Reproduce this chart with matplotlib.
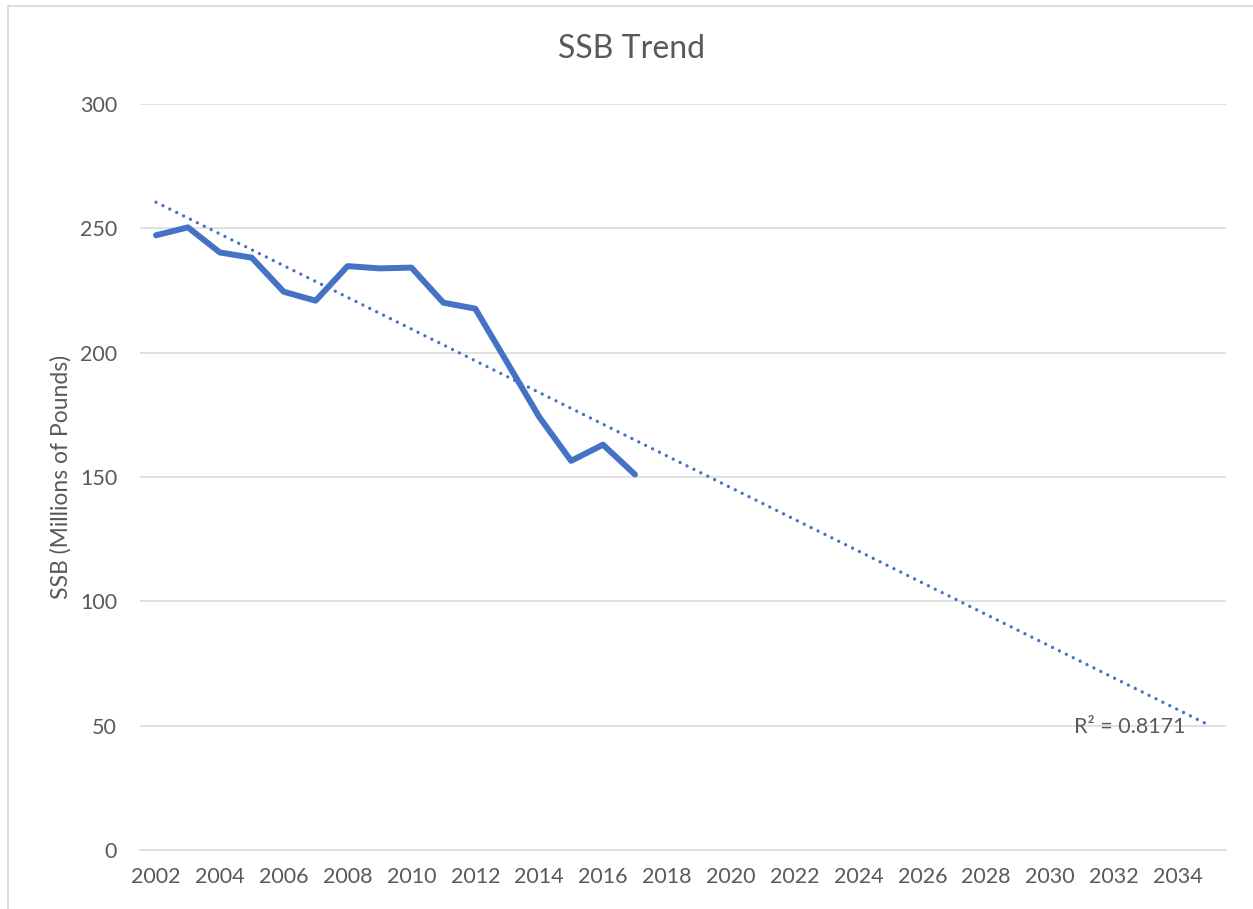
import numpy as np
import matplotlib
matplotlib.use("Agg")
import matplotlib.pyplot as plt
from matplotlib.lines import Line2D

plt.rcParams['font.family'] = ['Lato', 'DejaVu Sans']

# ---- data ----
years = [2002, 2003, 2004, 2005, 2006, 2007, 2008, 2009,
         2010, 2011, 2012, 2013, 2014, 2015, 2016, 2017]
ssb = [247.2, 250.4, 240.3, 238.2, 224.5, 220.9, 234.8, 233.9,
       234.2, 220.1, 217.7, 196.0, 174.2, 156.5, 163.0, 151.0]
forecast_end = 2035
x_tick_labels = list(range(2002, 2035, 2))
y_ticks = [0, 50, 100, 150, 200, 250, 300]
title = "SSB Trend"
y_label = "SSB (Millions of Pounds)"
r2_label = "R² = 0.8171"

# ---- style ----
W, H = 1253, 909
DPI = 100
blue = "#4472C4"
text_col = "#595959"
grid_col = "#D9D9D9"

fig = plt.figure(figsize=(W / DPI, H / DPI), dpi=DPI)
ax = fig.add_axes([140 / W, 1 - 850 / H, (1225.7 - 140) / W, (850 - 104) / H])

# trend line (linear fit, forecast forward)
coef = np.polyfit(years, ssb, 1)
trend_x = np.arange(years[0], forecast_end + 1)
trend_y = np.polyval(coef, trend_x)
ax.plot(trend_x, trend_y, color=blue, linewidth=2.4,
        linestyle=(0, (0.01, 2.3)), dash_capstyle='round', zorder=3)

# data line
ax.plot(years, ssb, color=blue, linewidth=4.3, solid_joinstyle='round',
        solid_capstyle='round', zorder=4)

ax.set_xlim(years[0] - 0.5, forecast_end + 0.5)
ax.set_ylim(0, 300)
ax.set_yticks(y_ticks)
ax.set_xticks(x_tick_labels)
ax.set_xticklabels([str(v) for v in x_tick_labels])

ax.grid(axis='y', color=grid_col, linewidth=1.1)
ax.set_axisbelow(True)
for s in ['top', 'right', 'left']:
    ax.spines[s].set_visible(False)
ax.spines['bottom'].set_color(grid_col)
ax.spines['bottom'].set_linewidth(1.1)
ax.tick_params(axis='both', length=0, labelsize=15.5, labelcolor=text_col)
ax.tick_params(axis='y', pad=16.5)
ax.tick_params(axis='x', pad=12)

ax.set_ylabel(y_label, fontsize=16.5, color=text_col, labelpad=6)
fig.text(631 / W, 1 - 49 / H, title, fontsize=23, color=text_col,
         ha='center', va='center')

ax.text(2032.5, 49.5, r2_label, fontsize=15.5, color=text_col,
        ha='center', va='center', zorder=2)

# chart-area border (left and top)
fig.add_artist(Line2D([7.5 / W, 7.5 / W], [0, 1 - 6 / H], transform=fig.transFigure,
                      color=grid_col, linewidth=1.3))
fig.add_artist(Line2D([7.5 / W, 1], [1 - 6 / H, 1 - 6 / H], transform=fig.transFigure,
                      color=grid_col, linewidth=1.3))

fig.savefig("out.png", dpi=DPI, facecolor='white')
